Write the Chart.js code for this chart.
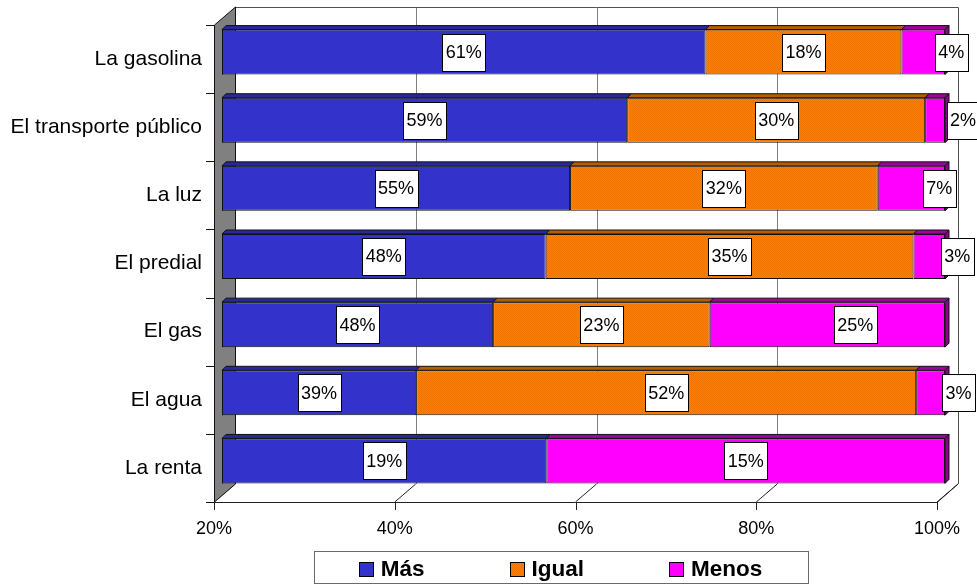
<!DOCTYPE html>
<html>
<head>
<meta charset="utf-8">
<script src="https://cdn.jsdelivr.net/npm/chart.js@4.4.1/dist/chart.umd.min.js"></script>
<style>
html,body{margin:0;padding:0;background:#fff;}
#wrap{width:977px;height:585px;position:relative;}
</style>
</head>
<body>
<div id="wrap"><canvas id="c" width="977" height="585"></canvas></div>
<script>
// ---- data ----
const categories = ['La gasolina', 'El transporte público', 'La luz', 'El predial', 'El gas', 'El agua', 'La renta'];
const seriesNames = ['Más', 'Igual', 'Menos'];
const mas   = [61, 59, 55, 48, 48, 39, 19];
const igual = [18, 30, 32, 35, 23, 52, 0];
const menos = [4, 2, 7, 3, 25, 3, 15];
const tickLabels = ['20%', '40%', '60%', '80%', '100%'];

// 100% stacked: each segment as a share of its row total
const rawSeries = [mas, igual, menos];
const totals = categories.map((_, i) => mas[i] + igual[i] + menos[i]);
const toShare = arr => arr.map((v, i) => v / totals[i] * 100);

// ---- styles ----
const FONT = "'Liberation Sans', Arial, Helvetica, sans-serif";
function orangePattern() {
  const c = document.createElement('canvas');
  c.width = 2; c.height = 2;
  const g = c.getContext('2d');
  g.fillStyle = '#FF8000'; g.fillRect(0, 0, 2, 2);
  g.fillStyle = '#EC7400'; g.fillRect(0, 0, 1, 1); g.fillRect(1, 1, 1, 1);
  return g.createPattern(c, 'repeat');
}
const frontColors = ['#3333CC', orangePattern(), '#FF00FF'];
const topColors   = ['#28289E', '#B85C00', '#A000A0'];
const sideColors  = ['#22228A', '#9E5000', '#8C008C'];

// 3D geometry offsets (pixels) relative to the bar plane
const D = { fx: -8, fy: 7, bx: 13, by: -11, bar: 4 };
const crisp = v => Math.round(v) + 0.5;
const noPad = s => { s.paddingLeft = 0; s.paddingRight = 0; s.paddingTop = 0; s.paddingBottom = 0; };

const wallsPlugin = {
  id: 'walls',
  beforeDatasetsDraw(chart) {
    const { ctx, chartArea: a, scales: { x, y } } = chart;
    const L = a.left, R = a.right, T = a.top, B = a.bottom;
    ctx.save();
    ctx.lineWidth = 1;
    // back wall gridlines
    ctx.strokeStyle = '#808080';
    x.ticks.forEach(t => {
      if (t.value <= x.min || t.value >= x.max) return;
      const px = crisp(x.getPixelForValue(t.value) + D.bx);
      ctx.beginPath(); ctx.moveTo(px, T + D.by); ctx.lineTo(px, B + D.by); ctx.stroke();
    });
    // back wall top and right border
    ctx.strokeStyle = '#505050';
    ctx.beginPath();
    ctx.moveTo(L + D.bx, crisp(T + D.by));
    ctx.lineTo(crisp(R + D.bx), crisp(T + D.by));
    ctx.lineTo(crisp(R + D.bx), B + D.by);
    ctx.stroke();
    // floor
    ctx.fillStyle = '#fff';
    ctx.beginPath();
    ctx.moveTo(L + D.fx, B + D.fy); ctx.lineTo(R + D.fx, B + D.fy);
    ctx.lineTo(R + D.bx, B + D.by); ctx.lineTo(L + D.bx, B + D.by); ctx.closePath();
    ctx.fill();
    ctx.strokeStyle = '#222';
    ctx.beginPath();
    ctx.moveTo(L + D.fx, crisp(B + D.fy)); ctx.lineTo(R + D.fx, crisp(B + D.fy));
    ctx.lineTo(R + D.bx, B + D.by);
    ctx.stroke();
    x.ticks.forEach(t => {
      const px = x.getPixelForValue(t.value);
      ctx.beginPath();
      ctx.moveTo(px + D.fx, B + D.fy); ctx.lineTo(px + D.bx, B + D.by);
      ctx.stroke();
      // tick marks under the front edge
      ctx.beginPath();
      ctx.moveTo(crisp(px + D.fx), B + D.fy); ctx.lineTo(crisp(px + D.fx), B + D.fy + 8);
      ctx.stroke();
    });
    // left wall
    ctx.fillStyle = '#808080';
    ctx.strokeStyle = '#111';
    ctx.beginPath();
    ctx.moveTo(crisp(L + D.fx), T + D.fy); ctx.lineTo(crisp(L + D.bx), T + D.by);
    ctx.lineTo(crisp(L + D.bx), B + D.by); ctx.lineTo(crisp(L + D.fx), B + D.fy); ctx.closePath();
    ctx.fill(); ctx.stroke();
    // category tick marks on the front-left edge
    const n = categories.length;
    const band = (B - T) / n;
    for (let k = 0; k <= n; k++) {
      const py = crisp(T + D.fy + k * band);
      ctx.beginPath(); ctx.moveTo(L + D.fx - 8, py); ctx.lineTo(L + D.fx, py); ctx.stroke();
    }
    ctx.restore();
  }
};

const barsPlugin = {
  id: 'bars3d',
  afterDatasetsDraw(chart) {
    const { ctx, chartArea: a } = chart;
    const L = a.left, R = a.right;
    const segs = [];
    chart.data.datasets.forEach((ds, d) => {
      const meta = chart.getDatasetMeta(d);
      meta.data.forEach((el, i) => {
        const p = el.getProps(['x', 'base', 'y', 'height'], true);
        const x0 = Math.max(Math.min(p.base, p.x), L);
        const x1 = Math.min(Math.max(p.base, p.x), R);
        if (x1 - x0 < 0.5 || rawSeries[d][i] <= 0) return;
        segs.push({ d, i, x0, x1, top: p.y - p.height / 2, bottom: p.y + p.height / 2, yc: p.y });
      });
    });
    ctx.save();
    ctx.lineWidth = 1;
    ctx.strokeStyle = '#111';
    const dd = D.bar;
    segs.forEach(s => {
      // top face
      ctx.fillStyle = topColors[s.d];
      ctx.beginPath();
      ctx.moveTo(s.x0, s.top); ctx.lineTo(s.x1, s.top);
      ctx.lineTo(s.x1 + dd, s.top - dd); ctx.lineTo(s.x0 + dd, s.top - dd); ctx.closePath();
      ctx.fill(); ctx.stroke();
      // left edge of the clipped first segment
      if (s.x0 <= L + 0.5) {
        ctx.beginPath(); ctx.moveTo(crisp(L), s.top); ctx.lineTo(crisp(L), s.bottom); ctx.stroke();
      }
    });
    // right side face of each row's last segment
    categories.forEach((_, i) => {
      const row = segs.filter(s => s.i === i);
      if (!row.length) return;
      const s = row.reduce((m, v) => (v.x1 > m.x1 ? v : m));
      ctx.fillStyle = sideColors[s.d];
      ctx.beginPath();
      ctx.moveTo(s.x1, s.top); ctx.lineTo(s.x1 + dd, s.top - dd);
      ctx.lineTo(s.x1 + dd, s.bottom - dd); ctx.lineTo(s.x1, s.bottom); ctx.closePath();
      ctx.fill(); ctx.stroke();
    });
    // data labels
    ctx.font = '18px ' + FONT;
    ctx.textAlign = 'center';
    ctx.textBaseline = 'middle';
    segs.forEach(s => {
      const txt = rawSeries[s.d][s.i] + '%';
      let cx = (s.x0 + s.x1) / 2;
      if (s.d === 2 && (s.x1 - s.x0) < 300) cx += 28;
      const w = Math.round(ctx.measureText(txt).width + 7);
      const h = 37;
      const bx = Math.round(cx - w / 2) + 0.5, by = Math.round(s.yc - h / 2) + 0.5;
      ctx.fillStyle = '#fff';
      ctx.fillRect(bx, by, w, h);
      ctx.strokeStyle = '#000';
      ctx.strokeRect(bx, by, w, h);
      ctx.fillStyle = '#000';
      ctx.fillText(txt, cx, s.yc + 1);
    });
    ctx.restore();
  }
};

const legendPlugin = {
  id: 'boxLegend',
  afterDraw(chart) {
    const { ctx, chartArea: a } = chart;
    const cx = (a.left + a.right) / 2 - 23;
    const cy = a.bottom + 74;
    ctx.save();
    ctx.font = 'bold 22.5px ' + FONT;
    ctx.textBaseline = 'middle';
    ctx.textAlign = 'left';
    const box = 15, gap = 7, spacing = 85;
    const items = chart.data.datasets.map((ds, d) => ({
      text: ds.label, color: ds.backgroundColor, w: box + gap + ctx.measureText(ds.label).width
    }));
    const total = items.reduce((s, it) => s + it.w, 0) + spacing * (items.length - 1);
    let xx = cx - total / 2;
    // frame
    ctx.strokeStyle = '#6a6a6a';
    ctx.lineWidth = 1;
    ctx.strokeRect(Math.round(xx - 45) + 0.5, Math.round(a.bottom + 56) + 0.5,
                   Math.round(total + 90), 32);
    items.forEach(it => {
      ctx.fillStyle = it.color;
      ctx.fillRect(Math.round(xx), Math.round(cy - 7), box, box);
      ctx.strokeStyle = '#000';
      ctx.strokeRect(Math.round(xx) + 0.5, Math.round(cy - 7) + 0.5, box - 1, box - 1);
      ctx.fillStyle = '#000';
      ctx.fillText(it.text, xx + box + gap, cy + 1);
      xx += it.w + spacing;
    });
    ctx.restore();
  }
};

new Chart(document.getElementById('c'), {
  type: 'bar',
  data: {
    labels: categories,
    datasets: rawSeries.map((arr, d) => ({
      label: seriesNames[d],
      data: toShare(arr),
      backgroundColor: frontColors[d],
      borderColor: '#111',
      borderWidth: 1,
      borderSkipped: false,
      categoryPercentage: 1,
      barPercentage: 0.66
    }))
  },
  options: {
    indexAxis: 'y',
    responsive: false,
    animation: false,
    devicePixelRatio: 1,
    layout: { padding: { top: 18, right: 32, left: 0, bottom: 0 } },
    plugins: {
      legend: { display: false },
      tooltip: { enabled: false }
    },
    scales: {
      x: {
        type: 'linear',
        stacked: true,
        min: 20,
        max: 100,
        grid: { display: false },
        border: { display: false },
        ticks: {
          stepSize: 20,
          labelOffset: -8,
          padding: 15,
          color: '#000',
          font: { family: FONT, size: 18 },
          callback: (v, i) => tickLabels[i]
        },
        afterFit: s => { noPad(s); s.height = 90; }
      },
      y: {
        stacked: true,
        grid: { display: false },
        border: { display: false },
        ticks: {
          labelOffset: 7,
          padding: 12,
          color: '#000',
          font: { family: FONT, size: 21 }
        },
        afterFit: s => { noPad(s); s.width = 222; }
      }
    }
  },
  plugins: [wallsPlugin, barsPlugin, legendPlugin]
});
</script>
</body>
</html>
